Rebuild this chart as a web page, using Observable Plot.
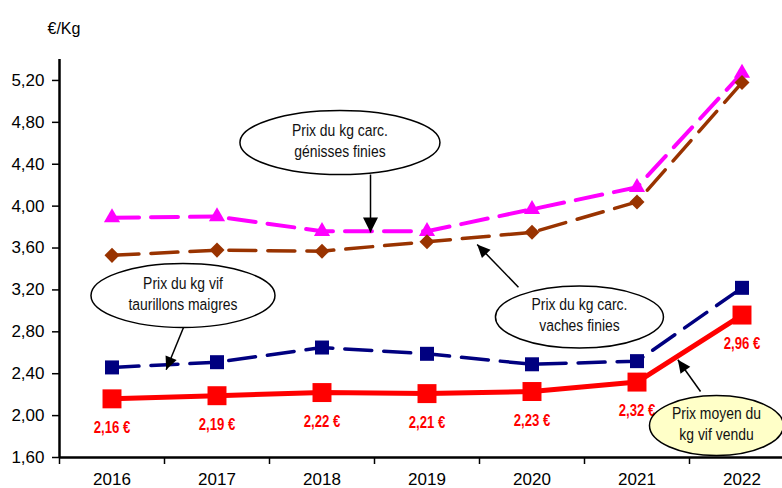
<!DOCTYPE html>
<html><head><meta charset="utf-8">
<script src="https://cdn.jsdelivr.net/npm/d3@7"></script>
<script src="https://cdn.jsdelivr.net/npm/@observablehq/plot@0.6"></script>
<style>body{margin:0;background:#fff} svg{display:block}</style>
</head><body><div id="chart"></div>
<script>
// ---- data ----
const years = [2016, 2017, 2018, 2019, 2020, 2021, 2022];
const xTickLabels = ["2016", "2017", "2018", "2019", "2020", "2021", "2022"];
const prixMoyenVif = [2.16, 2.19, 2.22, 2.21, 2.23, 2.32, 2.96];
const taurillonsMaigres = [2.46, 2.51, 2.65, 2.59, 2.49, 2.52, 3.22];
const vachesFinies = [3.53, 3.58, 3.57, 3.66, 3.75, 4.04, 5.18];
const genissesFinies = [3.89, 3.90, 3.76, 3.76, 3.97, 4.18, 5.27];
const priceLabels = ["2,16 €", "2,19 €", "2,22 €", "2,21 €", "2,23 €", "2,32 €", "2,96 €"];
const yTicks = [1.6, 2.0, 2.4, 2.8, 3.2, 3.6, 4.0, 4.4, 4.8, 5.2];
const yTickLabels = ["1,60", "2,00", "2,40", "2,80", "3,20", "3,60", "4,00", "4,40", "4,80", "5,20"];
const unitLabel = "€/Kg";

// callouts (anchored in data coordinates)
const calloutTexts = ["Prix du kg carc.\ngénisses finies", "Prix du kg vif\ntaurillons maigres", "Prix du kg carc.\nvaches finies", "Prix moyen du\nkg vif vendu"];
const calloutX = [2018.171, 2016.676, 2020.452, 2021.757];
const calloutY = [4.607, 3.147, 2.941, 1.905];
const arrowFromX = [2018.462, 2016.681, 2019.871, 2021.605];
const arrowFromY = [4.302, 2.841, 3.226, 2.230];
const arrowToX = [2018.462, 2016.516, 2019.478, 2021.389];
const arrowToY = [3.748, 2.437, 3.633, 2.533];

// ---- layout / style ----
const W = 782, H = 488, ML = 59, MR = 0, MT = 59, MB = 31;
const xDomain = [2015.5, 2015.5 + (W - ML - MR) / 105];
const yDomain = [1.6, 5.4];
const sans = "'Liberation Sans', Arial, sans-serif";
const ellipseRadii = [[100, 32], [92, 32], [84, 31], [67, 30]];
const ellipseFills = ["white", "white", "white", "#ffffc8"];
const headSizes = [[7.5, 15], [6, 13], [6, 13], [6, 13]];

const rows = years.map((year, i) => ({
  year, label: xTickLabels[i],
  moyen: prixMoyenVif[i], taur: taurillonsMaigres[i], vaches: vachesFinies[i], gen: genissesFinies[i],
  price: priceLabels[i]
}));
const callouts = calloutTexts.map((text, i) => ({
  text, x: calloutX[i], y: calloutY[i],
  x1: arrowFromX[i], y1: arrowFromY[i], x2: arrowToX[i], y2: arrowToY[i]
}));

const xs = Plot.scale({x: {domain: xDomain, range: [ML, W - MR]}});
const ys = Plot.scale({y: {domain: yDomain, range: [H - MB, MT]}});
function angleOf(c) {
  const dx = xs.apply(c.x2) - xs.apply(c.x1);
  const dy = ys.apply(c.y2) - ys.apply(c.y1);
  return Math.atan2(dx, -dy) * 180 / Math.PI;
}
function ellipseSymbol(rx, ry) {
  const k = 0.5523;
  return {draw(ctx) {
    ctx.moveTo(rx, 0);
    ctx.bezierCurveTo(rx, ry * k, rx * k, ry, 0, ry);
    ctx.bezierCurveTo(-rx * k, ry, -rx, ry * k, -rx, 0);
    ctx.bezierCurveTo(-rx, -ry * k, -rx * k, -ry, 0, -ry);
    ctx.bezierCurveTo(rx * k, -ry, rx, -ry * k, rx, 0);
    ctx.closePath();
  }};
}
function headSymbol(hw, hl) {
  return {draw(ctx) {
    ctx.moveTo(0, 0); ctx.lineTo(-hw, hl); ctx.lineTo(hw, hl); ctx.closePath();
  }};
}

const dash = "27,12";
const chart = Plot.plot({
  width: W, height: H,
  marginLeft: ML, marginRight: MR, marginTop: MT, marginBottom: MB,
  style: {fontFamily: sans, background: "white", overflow: "visible"},
  x: {domain: xDomain, range: [ML, W - MR]},
  y: {domain: yDomain},
  marks: [
    // axes
    Plot.axisY(yTicks, {tickFormat: (d, i) => yTickLabels[i], tickSize: 7, tickPadding: 8, fontSize: 17, strokeWidth: 1.5, label: null}),
    Plot.axisX(years, {tickFormat: (d, i) => xTickLabels[i], tickSize: 0, tickPadding: 15, fontSize: 17, label: null}),
    Plot.axisX(years.map(y => y - 0.5), {tickFormat: () => "", tickSize: 7, strokeWidth: 1.5, label: null}),
    Plot.ruleX([xDomain[0]], {stroke: "black", strokeWidth: 2.5}),
    Plot.ruleY([yDomain[0]], {stroke: "black", strokeWidth: 2.5}),
    Plot.text([unitLabel], {frameAnchor: "top-left", text: d => d, textAnchor: "start", dx: -12, dy: -37, fontSize: 16}),
    // series
    Plot.line(rows, {x: "year", y: "gen", stroke: "#ff00ff", strokeWidth: 4, strokeDasharray: dash}),
    Plot.dot(rows, {x: "year", y: "gen", symbol: "triangle", r: 6, fill: "#ff00ff"}),
    Plot.line(rows, {x: "year", y: "vaches", stroke: "#993300", strokeWidth: 3.5, strokeDasharray: dash}),
    Plot.dot(rows, {x: "year", y: "vaches", symbol: "square", rotate: 45, r: 6, fill: "#993300"}),
    Plot.line(rows, {x: "year", y: "taur", stroke: "#000080", strokeWidth: 3.5, strokeDasharray: dash}),
    Plot.dot(rows, {x: "year", y: "taur", symbol: "square", r: 7.9, fill: "#000080"}),
    Plot.line(rows, {x: "year", y: "moyen", stroke: "#ff0000", strokeWidth: 5}),
    Plot.dot(rows, {x: "year", y: "moyen", symbol: "square", r: 10.7, fill: "#ff0000"}),
    Plot.text(rows, {x: "year", y: "moyen", text: "price", dy: 29, fill: "#ff0000", fontWeight: "bold", fontSize: 16, ariaDescription: "condensed"}),
    // callouts
    Plot.link(callouts, {x1: "x1", y1: "y1", x2: "x2", y2: "y2", stroke: "black", strokeWidth: 1.5}),
    ...callouts.map((c, i) => Plot.dot([c], {x: "x", y: "y", symbol: ellipseSymbol(...ellipseRadii[i]), fill: ellipseFills[i], stroke: "black", strokeWidth: 1.5})),
    Plot.text(callouts, {x: "x", y: "y", text: "text", dy: -3, fontSize: 17, lineHeight: 1.25, fill: "#111", ariaDescription: "condensed"}),
    ...callouts.map((c, i) => Plot.dot([c], {x: "x2", y: "y2", symbol: headSymbol(...headSizes[i]), rotate: angleOf(c), fill: "black", stroke: "none"}))
  ]
});
// narrow the callout and price texts horizontally (the original uses a condensed face)
chart.querySelectorAll('g[aria-description="condensed"] text').forEach(t => {
  const tr = t.getAttribute("transform") || "";
  t.setAttribute("transform", tr + " scale(0.82,1)");
});
document.getElementById("chart").appendChild(chart);
</script>
</body></html>
